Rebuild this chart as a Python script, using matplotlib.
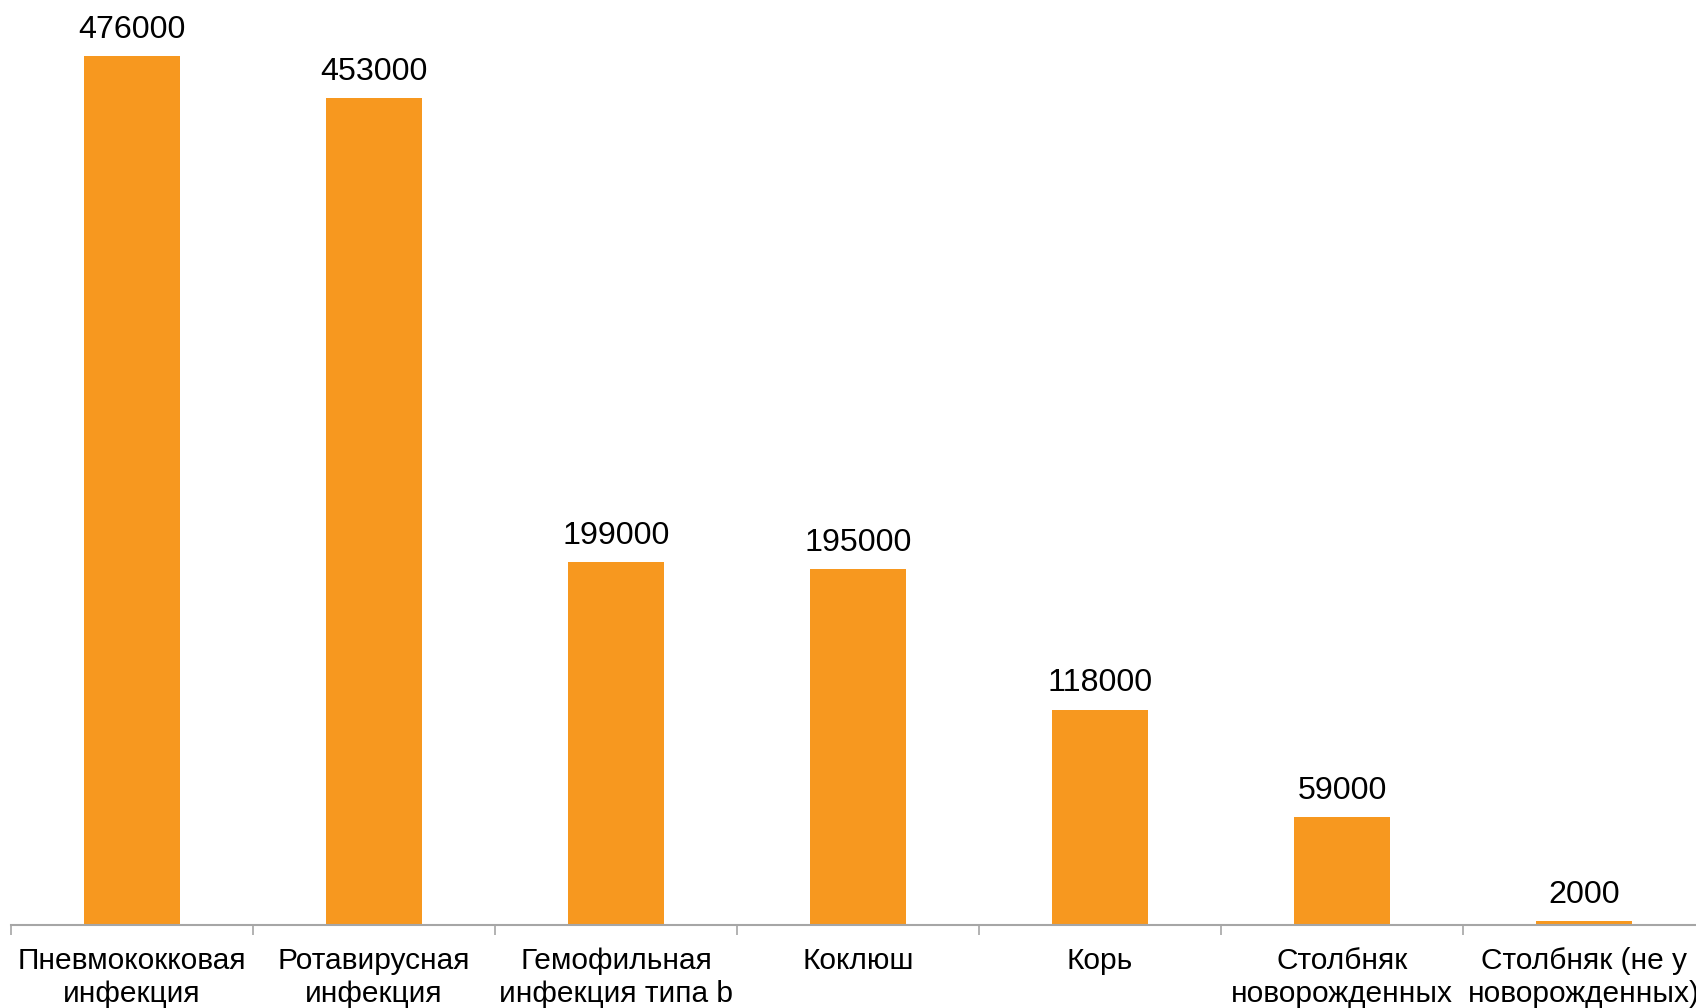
import matplotlib
matplotlib.use("Agg")
import matplotlib.pyplot as plt
import numpy as np

categories = ["Пневмококковая\nинфекция", "Ротавирусная\nинфекция", "Гемофильная\nинфекция типа b",
              "Коклюш", "Корь", "Столбняк\nноворожденных", "Столбняк (не у\nноворожденных)"]
values = [476000, 453000, 199000, 195000, 118000, 59000, 2000]

plt.rcParams['font.family'] = ['Liberation Sans', 'DejaVu Sans']

fig = plt.figure(figsize=(16.96, 10.08), dpi=100)
ax = fig.add_axes([11/1696, 83/1008, 1694/1696, 913/1008])

x = np.arange(len(categories))
ax.bar(x, values, width=0.4, color='#F7981F', zorder=2)
for xi, v in zip(x, values):
    ax.annotate(str(v), (xi, v), xytext=(0, 8), textcoords='offset points',
                ha='center', va='bottom', fontsize=23.2, color='black')

ax.set_xlim(-0.5, len(categories) - 0.5)
ax.set_ylim(0, 500000)
ax.set_yticks([])
for s in ['left', 'right', 'top']:
    ax.spines[s].set_visible(False)
ax.spines['bottom'].set_color('#a6a6a6')
ax.spines['bottom'].set_linewidth(1.5)

ax.set_xticks(x)
ax.set_xticklabels(categories, fontsize=21.5, linespacing=1.22)
ax.tick_params(axis='x', which='major', length=0, pad=16)
ax.set_xticks(np.arange(len(categories) + 1) - 0.5, minor=True)
ax.tick_params(axis='x', which='minor', length=7, width=1.2, color='#a6a6a6')

fig.savefig('out.png', dpi=100)
